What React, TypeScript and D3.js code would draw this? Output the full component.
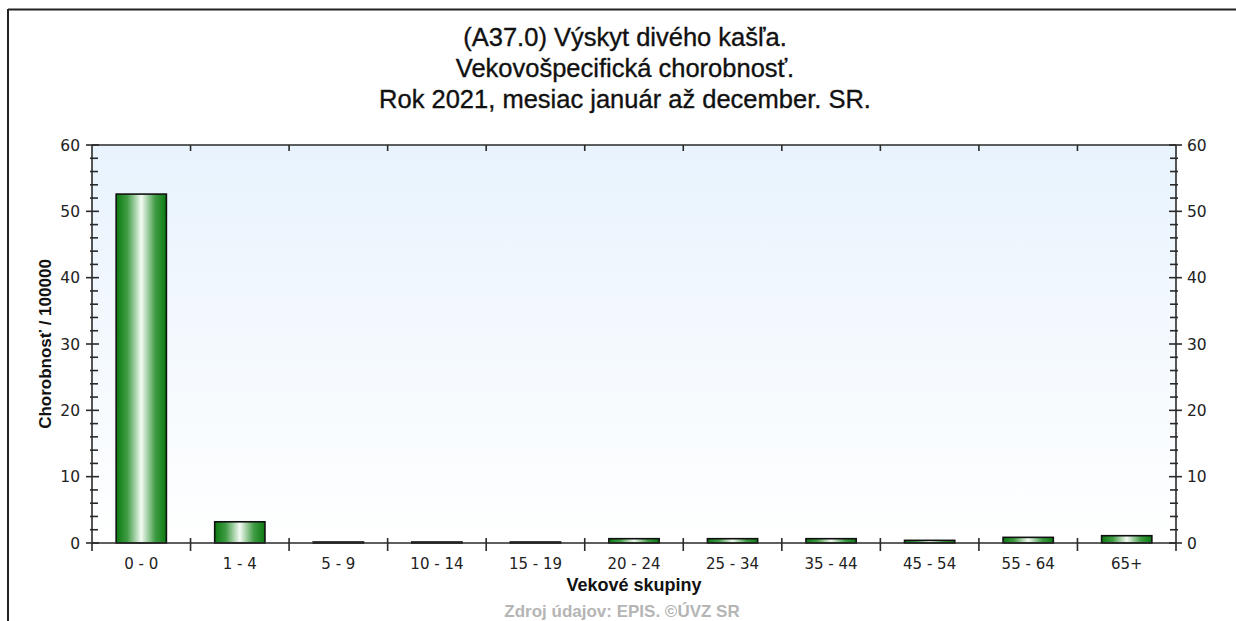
import React from "react";
import * as d3 from "d3";

const titleLines = [
  "(A37.0) Výskyt divého kašľa.",
  "Vekovošpecifická chorobnosť.",
  "Rok 2021, mesiac január až december. SR.",
];
const categories = ["0 - 0", "1 - 4", "5 - 9", "10 - 14", "15 - 19", "20 - 24", "25 - 34", "35 - 44", "45 - 54", "55 - 64", "65+"];
const values = [52.6, 3.2, 0.15, 0.15, 0.15, 0.65, 0.65, 0.65, 0.4, 0.85, 1.1];
const yDomain = [0, 60];
const yTitle = "Chorobnosť / 100000";
const xTitle = "Vekové skupiny";
const footer = "Zdroj údajov: EPIS. ©ÚVZ SR";

const W = 1236;
const H = 621;
const left = 92;
const right = 1176;
const top = 145;
const bottom = 543;

export default function App() {
  const x = d3.scaleBand<string>().domain(categories).range([left, right]).paddingInner(0.49).paddingOuter(0.245);
  const y = d3.scaleLinear().domain(yDomain).range([bottom, top]);
  const major = y.ticks(6);
  const minor = y.ticks(30).filter((t) => !major.includes(t));
  const step = x.step();
  const boundaries = d3.range(1, categories.length).map((i) => left + i * step);
  const tickFont = "'DejaVu Sans', Verdana, sans-serif";
  const sans = "'Liberation Sans', Arial, sans-serif";
  const axisColor = "#2a2a2a";

  return (
    <svg width={W} height={H} style={{ position: "absolute", left: 0, top: 0, background: "#fff" }}>
      <defs>
        <linearGradient id="bg" x1="0" y1="0" x2="0" y2="1">
          <stop offset="0" stopColor="#e8f3fd" />
          <stop offset="1" stopColor="#ffffff" />
        </linearGradient>
        <linearGradient id="bar" x1="0" y1="0" x2="1" y2="0">
          <stop offset="0" stopColor="#0b7a10" />
          <stop offset="0.22" stopColor="#3f9b43" />
          <stop offset="0.5" stopColor="#f4fbf4" />
          <stop offset="0.78" stopColor="#3f9b43" />
          <stop offset="1" stopColor="#0b7a10" />
        </linearGradient>
      </defs>
      {/* outer frame */}
      <line x1={8} y1={9.5} x2={W} y2={9.5} stroke="#222" strokeWidth={2} />
      <line x1={8} y1={9} x2={8} y2={H} stroke="#222" strokeWidth={2} />

      {/* title */}
      <g fontFamily={sans} fontSize={25.5} fill="#111" stroke="#111" strokeWidth={0.35} textAnchor="middle">
        {titleLines.map((t, i) => (
          <text key={i} x={625} y={46 + i * 31}>{t}</text>
        ))}
      </g>

      {/* plot background */}
      <rect x={left} y={top} width={right - left} height={bottom - top} fill="url(#bg)" />

      {/* bars */}
      {categories.map((c, i) => (
        <rect
          key={c}
          x={x(c)}
          y={y(values[i])}
          width={x.bandwidth()}
          height={y(0) - y(values[i])}
          fill="url(#bar)"
          stroke="#111"
          strokeWidth={1.6}
        />
      ))}

      {/* frame axes */}
      <g stroke={axisColor} strokeWidth={1.6} fill="none">
        <line x1={left} y1={top} x2={right} y2={top} />
        <line x1={left} y1={bottom} x2={right} y2={bottom} />
        <line x1={left} y1={top} x2={left} y2={bottom + 8} />
        <line x1={right} y1={top} x2={right} y2={bottom + 8} />
        {boundaries.map((b, i) => (
          <g key={i}>
            <line x1={b} y1={bottom - 5} x2={b} y2={bottom + 8} />
            <line x1={b} y1={top} x2={b} y2={top + 6} />
          </g>
        ))}
        {major.map((t) => (
          <g key={"M" + t}>
            <line x1={left - 6} y1={y(t)} x2={left + 7} y2={y(t)} />
            <line x1={right - 7} y1={y(t)} x2={right + 6} y2={y(t)} />
          </g>
        ))}
        {minor.map((t) => (
          <g key={"m" + t}>
            <line x1={left - 2} y1={y(t)} x2={left + 6} y2={y(t)} />
            <line x1={right - 6} y1={y(t)} x2={right + 2} y2={y(t)} />
          </g>
        ))}
      </g>

      {/* y tick labels */}
      <g fontFamily={tickFont} fontSize={15.5} fill="#222">
        {major.map((t) => (
          <g key={"l" + t}>
            <text x={80} y={y(t)} dy="0.36em" textAnchor="end">{t}</text>
            <text x={1187} y={y(t)} dy="0.36em" textAnchor="start">{t}</text>
          </g>
        ))}
      </g>

      {/* x tick labels */}
      <g fontFamily={tickFont} fontSize={15} fill="#222" textAnchor="middle">
        {categories.map((c) => (
          <text key={c} x={(x(c) as number) + x.bandwidth() / 2} y={569}>{c}</text>
        ))}
      </g>

      {/* axis titles */}
      <text
        transform={`translate(45, ${(top + bottom) / 2}) rotate(-90)`}
        textAnchor="middle"
        dominantBaseline="central"
        fontFamily={sans}
        fontWeight="bold"
        fontSize={17}
        fill="#111"
      >
        {yTitle}
      </text>
      <text
        x={(left + right) / 2}
        y={591}
        textAnchor="middle"
        fontFamily={sans}
        fontWeight="bold"
        fontSize={18}
        fill="#111"
      >
        {xTitle}
      </text>
      <text
        x={622}
        y={617}
        textAnchor="middle"
        fontFamily={sans}
        fontWeight="bold"
        fontSize={17}
        fill="#b5b5b5"
      >
        {footer}
      </text>
    </svg>
  );
}
